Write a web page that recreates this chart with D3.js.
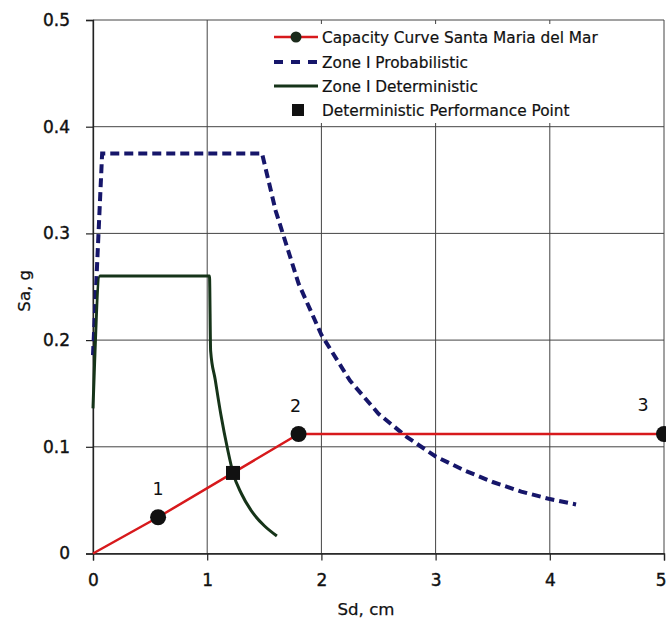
<!DOCTYPE html>
<html>
<head>
<meta charset="utf-8">
<script src="https://cdn.jsdelivr.net/npm/d3@7"></script>
<style>
  html, body { margin: 0; padding: 0; background: #ffffff; }
  svg { display: block; }
</style>
</head>
<body>
<script>
// Capacity curve of the building (Sd in cm, Sa in g)
const capacitySd = [0, 0.57, 1.80, 5.0];
const capacitySa = [0, 0.034, 0.112, 0.112];
const capacityLabels = ["", "1", "2", "3"];

// Zone I probabilistic demand spectrum
const probSd = [0, 0.08, 1.48, 1.6, 1.8, 2.0, 2.25, 2.5, 2.75, 3.0, 3.25, 3.5, 3.75, 4.0, 4.23];
const probSa = [0.186, 0.375, 0.375, 0.321, 0.253, 0.205, 0.162, 0.131, 0.109, 0.091, 0.078, 0.067, 0.058, 0.051, 0.046];

// Zone I deterministic demand spectrum
const detSd = [0, 0.06, 1.02, 1.03, 1.07, 1.12, 1.18, 1.226, 1.30, 1.40, 1.50, 1.61];
const detSa = [0.136, 0.26, 0.26, 0.19, 0.163, 0.13, 0.097, 0.0755, 0.056, 0.038, 0.026, 0.0164];

// Deterministic performance point
const perfSd = [1.226];
const perfSa = [0.0755];

const xTicks = [0, 1, 2, 3, 4, 5];
const yTicks = [0, 0.1, 0.2, 0.3, 0.4, 0.5];
const legendLabels = [
  "Capacity Curve Santa Maria del Mar",
  "Zone I Probabilistic",
  "Zone I Deterministic",
  "Deterministic Performance Point"
];

const W = 666, H = 625;
const plotL = 93, plotR = 664, plotT = 20, plotB = 553.5;

const svg = d3.select("body").append("svg").attr("width", W).attr("height", H);

const x = d3.scaleLinear().domain([0, 5]).range([plotL, plotR]);
const y = d3.scaleLinear().domain([0, 0.5]).range([plotB, plotT]);

const gridColor = "#444";
const navy = "#16166a";
const green = "#163419";
const red = "#d7191c";
const font = "DejaVu Sans, Verdana, sans-serif";

// scale a text selection's font so that one reference node reaches a target width
function fitFont(sel, refNode, base, target, lo, hi) {
  const w = refNode.getComputedTextLength();
  const fs = w > 0 ? Math.max(lo, Math.min(hi, base * target / w)) : base;
  sel.attr("font-size", fs);
  return fs;
}

// grid
svg.append("g").selectAll("line").data(xTicks).join("line")
  .attr("x1", d => x(d)).attr("x2", d => x(d))
  .attr("y1", plotT).attr("y2", plotB)
  .attr("stroke", gridColor).attr("stroke-width", 1);
svg.append("g").selectAll("line").data(yTicks).join("line")
  .attr("x1", plotL).attr("x2", plotR)
  .attr("y1", d => y(d)).attr("y2", d => y(d))
  .attr("stroke", gridColor).attr("stroke-width", 1);

// axes
const xAxis = d3.axisBottom(x).tickValues(xTicks).tickSize(7).tickPadding(13).tickFormat(d3.format("d"));
const yAxis = d3.axisLeft(y).tickValues(yTicks).tickSize(7).tickPadding(16).tickFormat(d => d === 0 ? "0" : d3.format(".1f")(d));

const gx = svg.append("g").attr("transform", `translate(0,${plotB})`).call(xAxis);
const gy = svg.append("g").attr("transform", `translate(${plotL},0)`).call(yAxis);
[gx, gy].forEach(g => {
  g.select(".domain").attr("stroke", "#222").attr("stroke-width", 1.3);
  g.selectAll(".tick line").attr("stroke", "#222").attr("stroke-width", 1.2);
  g.selectAll(".tick text")
    .attr("font-family", font)
    .attr("font-size", 16).attr("fill", "#111")
    .attr("stroke", "#111").attr("stroke-width", 0.4);
});
const tickTexts = svg.selectAll(".tick text");
fitFont(tickTexts, gy.selectAll(".tick text").filter(d => d === 0.5).node(), 16, 27, 14, 21);
// last x label sits against the page edge
gx.selectAll(".tick text").filter(d => d === 5).attr("text-anchor", "end").attr("dx", 2);

// axis titles
const xTitle = svg.append("text").attr("x", 366).attr("y", 615)
  .attr("text-anchor", "middle")
  .attr("font-family", font).attr("font-size", 15.5)
  .attr("fill", "#111").attr("stroke", "#111").attr("stroke-width", 0.25).text("Sd, cm");
const yTitle = svg.append("text").attr("transform", `translate(30,${(plotT + plotB) / 2 + 4}) rotate(-90)`)
  .attr("text-anchor", "middle")
  .attr("font-family", font).attr("font-size", 15.5)
  .attr("fill", "#111").attr("stroke", "#111").attr("stroke-width", 0.25).text("Sa, g");
const titleFs = fitFont(xTitle, xTitle.node(), 15.5, 57, 13, 19);
yTitle.attr("font-size", titleFs);

// legend box
const lg = svg.append("g");
lg.append("rect").attr("x", 262).attr("y", 24).attr("width", 398).attr("height", 99)
  .attr("fill", "#ffffff");

const line = d3.line().x(d => x(d[0])).y(d => y(d[1]));

// probabilistic spectrum
svg.append("path").datum(d3.zip(probSd, probSa)).attr("d", line)
  .attr("fill", "none").attr("stroke", navy).attr("stroke-width", 4)
  .attr("stroke-dasharray", "9,5");

// deterministic spectrum
svg.append("path").datum(d3.zip(detSd, detSa)).attr("d", d3.line().curve(d3.curveMonotoneX).x(d => x(d[0])).y(d => y(d[1])))
  .attr("fill", "none").attr("stroke", green).attr("stroke-width", 3);

// capacity curve
const cap = d3.zip(capacitySd, capacitySa);
svg.append("path").datum(cap).attr("d", line)
  .attr("fill", "none").attr("stroke", red).attr("stroke-width", 2.5);
svg.append("g").selectAll("circle").data(cap.slice(1)).join("circle")
  .attr("cx", d => x(d[0])).attr("cy", d => y(d[1])).attr("r", 8)
  .attr("fill", "#111");
const pointLabels = svg.append("g").selectAll("text").data(d3.zip(capacitySd, capacitySa, capacityLabels).slice(1)).join("text")
  .attr("x", (d, i) => x(d[0]) - (i === 2 ? 21 : (i === 1 ? 3 : 0)))
  .attr("y", (d, i) => y(d[1]) - (i === 2 ? 23 : 22))
  .attr("text-anchor", "middle")
  .attr("font-family", font).attr("font-size", 16.5)
  .attr("fill", "#111").text(d => d[2]);
pointLabels.attr("font-size", titleFs * 1.05);

// performance point
svg.append("g").selectAll("rect").data(d3.zip(perfSd, perfSa)).join("rect")
  .attr("x", d => x(d[0]) - 7).attr("y", d => y(d[1]) - 7)
  .attr("width", 14).attr("height", 14).attr("fill", "#111");

// legend entries
const rowsY = [37, 62, 86, 110];
const lx0 = 274, lx1 = 318, tx = 322;
lg.append("line").attr("x1", lx0).attr("x2", lx1).attr("y1", rowsY[0]).attr("y2", rowsY[0])
  .attr("stroke", red).attr("stroke-width", 2.5);
lg.append("circle").attr("cx", (lx0 + lx1) / 2).attr("cy", rowsY[0]).attr("r", 5.5).attr("fill", "#1b2a1b");
lg.append("line").attr("x1", lx0).attr("x2", lx1).attr("y1", rowsY[1]).attr("y2", rowsY[1])
  .attr("stroke", navy).attr("stroke-width", 4).attr("stroke-dasharray", "9,8");
lg.append("line").attr("x1", lx0).attr("x2", lx1).attr("y1", rowsY[2]).attr("y2", rowsY[2])
  .attr("stroke", green).attr("stroke-width", 3);
lg.append("rect").attr("x", 292).attr("y", rowsY[3] - 6).attr("width", 12).attr("height", 12).attr("fill", "#111");
const legendText = lg.selectAll("text").data(legendLabels).join("text")
  .attr("x", tx).attr("y", (d, i) => rowsY[i] + 5.5)
  .attr("font-family", font).attr("font-size", 15).attr("fill", "#111")
  .attr("stroke", "#111").attr("stroke-width", 0.2)
  .text(d => d);
fitFont(legendText, legendText.filter((d, i) => i === 0).node(), 15, 276, 12, 18);
</script>
</body>
</html>
